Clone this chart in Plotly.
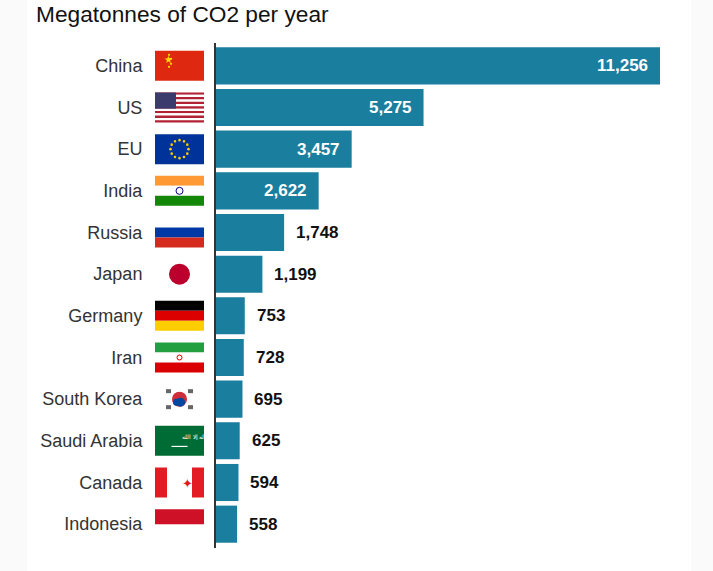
import math
import plotly.graph_objects as go

# data (Mt CO2 per year)
countries = ['China', 'US', 'EU', 'India', 'Russia', 'Japan', 'Germany',
             'Iran', 'South Korea', 'Saudi Arabia', 'Canada', 'Indonesia']
emissions = [11256, 5275, 3457, 2622, 1748, 1199, 753, 728, 695, 625, 594, 558]

BAR = '#1a7e9e'
FONT = 'Liberation Sans, Arial, sans-serif'

W, H = 713, 571
L, R, T, B = 215, 33, 45, 26
PW = W - L - R
PH = H - T - B
ROW = PH / len(countries)


def px(x):
    # screen x -> paper x
    return (x - L) / PW


def py(y):
    # screen y -> paper y
    return (T + PH - y) / PH


fig = go.Figure()

fig.add_trace(go.Bar(
    x=emissions, y=countries, orientation='h',
    marker=dict(color=BAR, line=dict(width=0)),
    hoverinfo='x+y',
))

annotations = []
for c, v in zip(countries, emissions):
    inside = v > 2000
    annotations.append(dict(
        x=v, y=c, xref='x', yref='y', text=f'<b>{v:,}</b>', showarrow=False,
        xanchor='right' if inside else 'left', xshift=-10 if inside else 10,
        font=dict(family=FONT, size=17, color='white' if inside else '#111'),
    ))

annotations.append(dict(
    x=px(34), y=py(29), xref='paper', yref='paper',
    text='Megatonnes of CO2 per year', showarrow=False,
    xanchor='left', yanchor='bottom',
    font=dict(family=FONT, size=22.7, color='#111'),
))

shapes = []

# card background
shapes.append(dict(type='rect', xref='paper', yref='paper', layer='below',
                   x0=px(27), x1=px(691), y0=py(580), y1=py(-10),
                   fillcolor='white', line=dict(width=0)))

# flags: x in screen pixels, dy in pixels from the row centre
FX0, FX1 = 155, 204
FH = 15


def rect(i, x0, x1, d0, d1, color):
    shapes.append(dict(type='rect', xref='paper', yref='y', layer='above',
                       x0=px(x0), x1=px(x1), y0=i + d0 / ROW, y1=i + d1 / ROW,
                       fillcolor=color, line=dict(width=0)))


def circ(i, cx, cy, r, color, line=None):
    shapes.append(dict(type='circle', xref='paper', yref='y', layer='above',
                       x0=px(cx - r), x1=px(cx + r),
                       y0=i + (cy - r) / ROW, y1=i + (cy + r) / ROW,
                       fillcolor=color,
                       line=dict(width=0) if line is None else line))


def stripes(i, colors):
    n = len(colors)
    for k, col in enumerate(colors):
        rect(i, FX0, FX1, -FH + 2 * FH * k / n, -FH + 2 * FH * (k + 1) / n, col)


def mark(i, x, dy, txt, color, size):
    annotations.append(dict(x=px(x), y=i + dy / ROW, xref='paper', yref='y',
                            text=txt, showarrow=False,
                            font=dict(size=size, color=color)))


CX = (FX0 + FX1) / 2
idx = {c: k for k, c in enumerate(countries)}

# China
i = idx['China']
rect(i, FX0, FX1, -FH, FH, '#de2910')
mark(i, 162, -7, '★', '#ffde00', 10)
for sx, sy in [(169, -11), (171, -7), (171, -2), (169, 1)]:
    circ(i, sx, sy, 1.1, '#ffde00')

# US
i = idx['US']
stripes(i, ['#b22234' if k % 2 == 0 else 'white' for k in range(13)])
rect(i, FX0, FX0 + 21, -FH, -FH + 2 * FH * 7 / 13, '#3c3b6e')

# EU
i = idx['EU']
rect(i, FX0, FX1, -FH, FH, '#003399')
for k in range(12):
    a = 2 * math.pi * k / 12
    circ(i, CX + 9 * math.cos(a), 9 * math.sin(a), 1.3, '#ffcc00')

# India
i = idx['India']
stripes(i, ['#ff9933', 'white', '#138808'])
circ(i, CX, 0, 3.5, 'white', dict(color='#000080', width=1))

# Russia
i = idx['Russia']
stripes(i, ['white', '#0039a6', '#d52b1e'])

# Japan
i = idx['Japan']
circ(i, CX, 0, 10.5, '#bc002d')

# Germany
i = idx['Germany']
stripes(i, ['#000000', '#dd0000', '#ffce00'])

# Iran
i = idx['Iran']
stripes(i, ['#239f40', 'white', '#da0000'])
circ(i, CX, 0, 2.5, 'white', dict(color='#da0000', width=1))

# South Korea
i = idx['South Korea']
circ(i, CX, 0, 7.5, '#cd2e3a')
circ(i, CX + 1, 3, 4.5, '#0047a0')
circ(i, CX - 3, 3, 3.5, '#0047a0')
for sx, sy in [(-11, -8), (11, -8), (-11, 8), (11, 8)]:
    rect(i, CX + sx - 2.5, CX + sx + 2.5, sy - 2, sy + 2, '#666')

# Saudi Arabia
i = idx['Saudi Arabia']
rect(i, FX0, FX1, -FH, FH, '#006c35')
mark(i, CX, -4, 'لا إله إلا الله', 'white', 6)
rect(i, CX - 8, CX + 8, 5, 6.2, 'white')

# Canada
i = idx['Canada']
rect(i, FX0, FX0 + 12, -FH, FH, '#e31b23')
rect(i, FX1 - 12, FX1, -FH, FH, '#e31b23')
mark(i, CX, 0, '✦', '#e31b23', 13)

# Indonesia
i = idx['Indonesia']
rect(i, FX0, FX1, -FH, 0, '#ce1126')

# y axis line
shapes.append(dict(type='line', xref='paper', yref='paper', layer='above',
                   x0=0, x1=0, y0=py(548), y1=py(43),
                   line=dict(color='#333', width=2)))

fig.update_layout(
    width=W, height=H,
    margin=dict(l=L, r=R, t=T, b=B),
    paper_bgcolor='#fafafa',
    plot_bgcolor='white',
    bargap=0.11,
    showlegend=False,
    shapes=shapes,
    annotations=annotations,
    xaxis=dict(range=[0, 11762], visible=False, fixedrange=True),
    yaxis=dict(
        categoryorder='array', categoryarray=countries, autorange='reversed',
        showgrid=False, zeroline=False, showline=False,
        ticks='outside', ticklen=68, tickcolor='rgba(0,0,0,0)',
        tickfont=dict(family=FONT, size=18, color='#333'),
        fixedrange=True,
    ),
)

# drop the page's default body margin so the figure sits at the window corner
fig.write_html('out.html', config={'displayModeBar': False},
               post_script="document.body.style.margin='0px';")
